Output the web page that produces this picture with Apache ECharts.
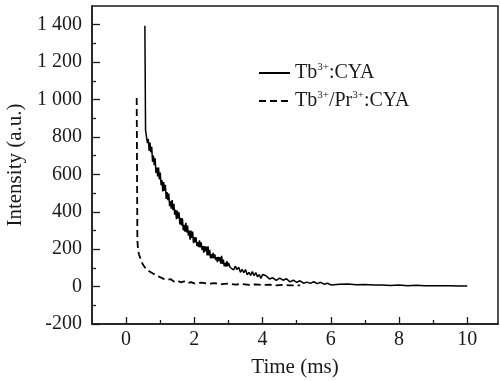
<!DOCTYPE html>
<html>
<head>
<meta charset="utf-8">
<script src="https://cdn.jsdelivr.net/npm/echarts@6.0.0/dist/echarts.min.js"></script>
<style>
  html, body { margin: 0; padding: 0; background: #fff; }
  #chart { width: 500px; height: 381px; }
</style>
</head>
<body>
<div id="chart"></div>
<script>
// Tb3+:CYA decay (time in ms, intensity a.u.)
var tbTime = [0.55, 0.57,
  0.600, 0.625, 0.650, 0.675, 0.700, 0.725, 0.750, 0.775, 0.800, 0.825, 0.850, 0.875, 0.900, 0.925, 0.950, 0.975,
  1.000, 1.025, 1.050, 1.075, 1.100, 1.125, 1.150, 1.175, 1.200, 1.225, 1.250, 1.275, 1.300, 1.325, 1.350, 1.375,
  1.400, 1.425, 1.450, 1.475, 1.500, 1.525, 1.550, 1.575, 1.600, 1.625, 1.650, 1.675, 1.700, 1.725, 1.750, 1.775,
  1.800, 1.825, 1.850, 1.875, 1.900, 1.925, 1.950, 1.975, 2.000, 2.025, 2.050, 2.075, 2.100, 2.125, 2.150, 2.175,
  2.200, 2.225, 2.250, 2.275, 2.300, 2.325, 2.350, 2.375, 2.400, 2.425, 2.450, 2.475, 2.500, 2.525, 2.550, 2.575,
  2.600, 2.625, 2.650, 2.675, 2.700, 2.725, 2.750, 2.775, 2.800, 2.825, 2.850, 2.875, 2.900, 2.925, 2.950, 2.975,
  3.00, 3.05, 3.10, 3.15, 3.20, 3.25, 3.30, 3.35, 3.40, 3.45, 3.50, 3.55, 3.60, 3.65, 3.70, 3.75, 3.80, 3.85, 3.90, 3.95, 4.00,
  4.1, 4.2, 4.3, 4.4, 4.5, 4.6, 4.7, 4.8, 4.9, 5.0, 5.1, 5.2, 5.3, 5.4, 5.5, 5.6, 5.7, 5.8, 5.9, 6.0,
  6.25, 6.5, 6.75, 7.0, 7.25, 7.5, 7.75, 8.0, 8.25, 8.5, 8.75, 9.0, 9.25, 9.5, 9.75, 10.0];
var tbVal = [1394, 835,
  839, 767, 789, 725, 770, 718, 747, 667, 700, 649, 686, 608, 636, 589, 637, 573,
  609, 542, 569, 509, 559, 511, 544, 469, 505, 462, 497, 430, 457, 417, 462, 408,
  442, 385, 410, 360, 406, 365, 397, 332, 367, 327, 365, 301, 330, 293, 341, 290,
  326, 272, 299, 251, 299, 260, 294, 232, 265, 236, 264, 217, 238, 211, 247, 209,
  236, 196, 216, 181, 217, 188, 213, 167, 215, 167, 197, 151, 173, 152, 180, 151,
  172, 142, 158, 131, 159, 137, 157, 122, 165, 121, 144, 109, 127, 107, 136, 108,
  127, 102, 111, 89, 109, 91, 104, 76, 92, 74, 91, 63, 76, 60, 81, 58, 75, 52, 64, 44, 65,
  58, 41, 47, 33, 45, 34, 42, 25, 34, 23, 31, 18, 24, 17, 26, 16, 23, 13, 18, 9,
  12, 14, 10, 11, 8, 9, 6, 8, 5, 7, 4, 5, 4, 4, 3, 3];

// Tb3+/Pr3+:CYA decay
var prTime = [0.31, 0.33, 0.35, 0.38, 0.42, 0.46, 0.50,
  0.55, 0.60, 0.65, 0.70, 0.75, 0.80, 0.85, 0.90, 0.95, 1.00, 1.05, 1.10, 1.15, 1.20,
  1.30, 1.40, 1.50, 1.60, 1.70, 1.80, 1.90, 2.00,
  2.2, 2.4, 2.6, 2.8, 3.0, 3.2, 3.4, 3.6, 3.8, 4.0, 4.2, 4.4, 4.6, 4.8, 5.0, 5.1];
var prVal = [1008, 246, 195, 170, 150, 130, 115,
  109, 91, 97, 79, 86, 69, 76, 59, 67, 50, 56, 41, 49, 36,
  40, 27, 32, 23, 28, 19, 24, 17,
  21, 15, 18, 13, 16, 11, 14, 9, 12, 8, 10, 7, 9, 6, 7, 7];

var seriesNames = ['Tb3+:CYA', 'Tb3+/Pr3+:CYA'];
var legendLabels = ['Tb{s|3+}:CYA', 'Tb{s|3+}/Pr{s|3+}:CYA'];

var xMajor = [0, 2, 4, 6, 8, 10];
var xMinor = [1, 3, 5, 7, 9];
var yMajor = [-200, 0, 200, 400, 600, 800, 1000, 1200, 1400];
var yMinor = [-100, 100, 300, 500, 700, 900, 1100, 1300];

var FONT = 'Liberation Serif';
var INK = '#1a1a1a';

function pairs(xs, ys) {
  return xs.map(function (x, i) { return [x, ys[i]]; });
}

var chart = echarts.init(document.getElementById('chart'));

var option = {
  animation: false,
  backgroundColor: '#fff',
  grid: {
    left: 92, right: 2, top: 6, bottom: 57,
    outerBoundsMode: 'none',
    show: true, borderColor: INK, borderWidth: 1.5
  },
  legend: {
    orient: 'vertical',
    left: 258, top: 62, padding: 0,
    itemWidth: 31, itemHeight: 14, itemGap: 6,
    data: seriesNames,
    itemStyle: { opacity: 0 },
    formatter: function (name) { return legendLabels[seriesNames.indexOf(name)]; },
    textStyle: {
      fontFamily: FONT, fontSize: 20, color: INK, lineHeight: 22,
      rich: {
        s: { fontFamily: FONT, fontSize: 11, color: INK, lineHeight: 11, verticalAlign: 'top' }
      }
    }
  },
  xAxis: [{
    type: 'value', min: -1, max: 10.9,
    name: 'Time (ms)', nameLocation: 'middle', nameGap: 33,
    nameTextStyle: { fontFamily: FONT, fontSize: 21, color: INK },
    axisLine: { show: true, onZero: false, lineStyle: { color: INK, width: 1.5 } },
    axisTick: { show: true, inside: true, length: 7, customValues: xMajor, lineStyle: { color: INK, width: 1.3 } },
    axisLabel: { customValues: xMajor, margin: 6, fontFamily: FONT, fontSize: 20, color: INK },
    splitLine: { show: false }
  }, {
    type: 'value', min: -1, max: 10.9, position: 'bottom',
    axisLine: { show: false, onZero: false },
    axisTick: { show: true, inside: true, length: 4, customValues: xMinor, lineStyle: { color: INK, width: 1.3 } },
    axisLabel: { show: false },
    splitLine: { show: false }
  }],
  yAxis: [{
    type: 'value', min: -200, max: 1500,
    name: 'Intensity (a.u.)', nameLocation: 'middle', nameGap: 52,
    nameTextStyle: { fontFamily: FONT, fontSize: 21, color: INK },
    axisLine: { show: true, onZero: false, lineStyle: { color: INK, width: 1.5 } },
    axisTick: { show: true, inside: true, length: 8, customValues: yMajor, lineStyle: { color: INK, width: 1.3 } },
    axisLabel: {
      customValues: yMajor, margin: 10, fontFamily: FONT, fontSize: 20, color: INK,
      formatter: function (v) {
        return Math.abs(v) >= 1000 ? String(v).replace(/(\d)(\d{3})$/, '$1 $2') : String(v);
      }
    },
    splitLine: { show: false }
  }, {
    type: 'value', min: -200, max: 1500, position: 'left',
    axisLine: { show: false, onZero: false },
    axisTick: { show: true, inside: true, length: 4, customValues: yMinor, lineStyle: { color: INK, width: 1.3 } },
    axisLabel: { show: false },
    splitLine: { show: false }
  }],
  series: [{
    name: seriesNames[0],
    type: 'line',
    xAxisIndex: 0, yAxisIndex: 0,
    symbol: 'none', showSymbol: false,
    lineStyle: { color: '#000', width: 1.5 },
    itemStyle: { color: '#000' },
    data: pairs(tbTime, tbVal)
  }, {
    name: seriesNames[1],
    type: 'line',
    xAxisIndex: 0, yAxisIndex: 0,
    symbol: 'none', showSymbol: false,
    lineStyle: { color: '#000', width: 1.8, type: [7, 4] },
    itemStyle: { color: '#000' },
    data: pairs(prTime, prVal)
  }]
};

chart.setOption(option);
</script>
</body>
</html>
